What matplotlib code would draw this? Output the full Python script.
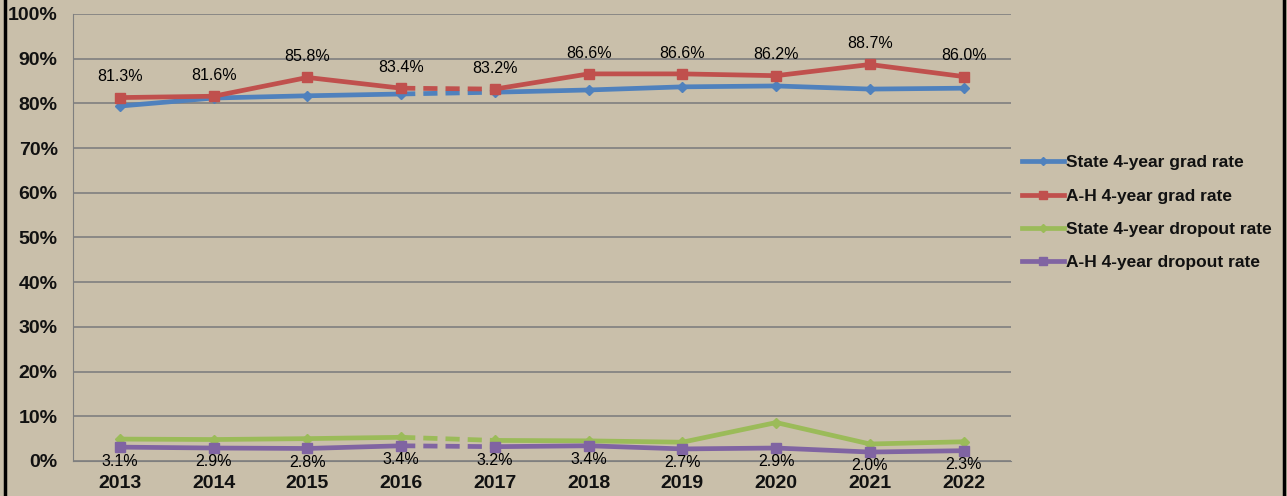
import matplotlib
matplotlib.use("Agg")
import matplotlib.pyplot as plt
from matplotlib.lines import Line2D
import numpy as np

years = ["2013", "2014", "2015", "2016", "2017", "2018", "2019", "2020", "2021", "2022"]
state_grad = [79.4, 81.2, 81.7, 82.1, 82.5, 83.0, 83.7, 83.9, 83.2, 83.4]
ah_grad = [81.3, 81.6, 85.8, 83.4, 83.2, 86.6, 86.6, 86.2, 88.7, 86.0]
state_drop = [4.9, 4.8, 5.0, 5.3, 4.6, 4.5, 4.2, 8.6, 3.8, 4.3]
ah_drop = [3.1, 2.9, 2.8, 3.4, 3.2, 3.4, 2.7, 2.9, 2.0, 2.3]
yticks = [0, 10, 20, 30, 40, 50, 60, 70, 80, 90, 100]

series = [
    ("State 4-year grad rate", state_grad, "#4F81BD", "D", 5),
    ("A-H 4-year grad rate", ah_grad, "#C0504D", "s", 7.5),
    ("State 4-year dropout rate", state_drop, "#9BBB59", "D", 5),
    ("A-H 4-year dropout rate", ah_drop, "#8064A2", "s", 7.5),
]

plt.rcParams["font.family"] = ["Liberation Sans", "DejaVu Sans"]
bg = "#C9BFAA"
fig = plt.figure(figsize=(12.87, 4.96), dpi=100, facecolor=bg)
ax = fig.add_axes([0.0567, 0.0706, 0.7285, 0.9012], facecolor=bg)

x = np.arange(len(years))
gap = 3  # dashed between index 3 and 4
handles = []
for name, vals, col, mk, ms in series:
    v = np.array(vals)
    ax.plot(x[:gap + 1], v[:gap + 1], color=col, lw=3.4, marker=mk, ms=ms, zorder=3,
            solid_capstyle="butt")
    ax.plot(x[gap + 1:], v[gap + 1:], color=col, lw=3.4, marker=mk, ms=ms, zorder=3,
            solid_capstyle="butt")
    ax.plot(x[gap:gap + 2], v[gap:gap + 2], color=col, lw=3.4, ls=(0, (3.0, 1.7)), zorder=2)
    handles.append(Line2D([0], [0], color=col, lw=3.4, marker=mk, ms=ms * 0.8, label=name))

for i, v in enumerate(ah_grad):
    ax.annotate(f"{v:.1f}%", (i, v), xytext=(0, 15), textcoords="offset points",
                ha="center", va="center", fontsize=11.5, color="#000000")
for i, v in enumerate(ah_drop):
    ax.annotate(f"{v:.1f}%", (i, v), xytext=(0, -10), textcoords="offset points",
                ha="center", va="center", fontsize=11.5, color="#000000")

ax.set_xlim(-0.5, len(years) - 0.5)
ax.set_ylim(0, 100)
ax.set_yticks(yticks)
ax.set_yticklabels([f"{t}%" for t in yticks], fontsize=14, fontweight="bold", color="#111111")
ax.set_xticks(x)
ax.set_xticklabels(years, fontsize=14, fontweight="bold", color="#111111")
ax.tick_params(axis="y", length=0, pad=11)
ax.tick_params(axis="x", length=0, pad=10)
ax.grid(axis="y", color="#7F7F7F", lw=1.2)
ax.set_axisbelow(True)
for s in ["top", "right"]:
    ax.spines[s].set_visible(False)
ax.spines["left"].set_color("#7F7F7F")
ax.spines["bottom"].set_color("#7F7F7F")

leg = fig.legend(handles=handles, loc="center left", bbox_to_anchor=(0.794, 0.571),
                 frameon=False, handlelength=2.4, handletextpad=0.15,
                 labelspacing=1.05, borderaxespad=0, borderpad=0,
                 prop={"family": "Liberation Sans", "size": 12.5, "weight": "bold"})
for t in leg.get_texts():
    t.set_color("#111111")

# black frame edges
fig.add_artist(Line2D([0.0035, 0.0035], [0, 1], transform=fig.transFigure, color="black", lw=2.5))
fig.add_artist(Line2D([0.9975, 0.9975], [0, 1], transform=fig.transFigure, color="black", lw=2.5))

fig.savefig("out.png", dpi=100, facecolor=bg)
